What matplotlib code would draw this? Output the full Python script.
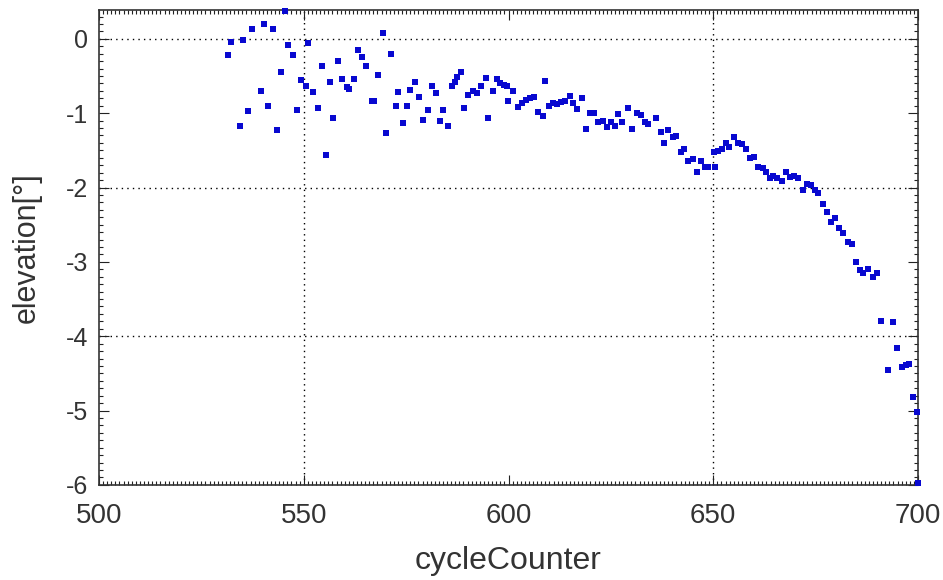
import matplotlib
matplotlib.use("Agg")
import matplotlib.pyplot as plt
from matplotlib.ticker import MultipleLocator

plt.rcParams['font.family'] = ['Liberation Sans', 'DejaVu Sans']
plt.rcParams['axes.unicode_minus'] = False

# values
cycle = [531.5, 532.2, 535.2, 537.4, 540.3, 542.5, 545.4, 534.4, 536.4, 539.6,
         541.3, 543.5, 544.4, 546.2, 547.4, 548.4, 549.3, 550.5, 551.0, 552.3,
         553.5, 554.5, 555.4, 556.4, 557.1, 558.4, 559.3, 560.6, 561.0, 562.3,
         563.2, 564.2, 565.2, 566.7, 567.1, 568.1, 569.4, 570.1, 571.3, 572.5,
         573.0, 574.2, 575.2, 575.9, 577.2, 578.1, 579.1, 580.3, 581.3, 582.3,
         583.3, 584.0, 585.2, 586.2, 586.9, 587.4, 588.4, 589.1, 590.1, 591.3,
         592.3, 593.3, 594.5, 595.0, 596.2, 597.2, 597.9, 598.9, 599.6, 599.9,
         601.1, 602.3, 603.3, 604.3, 605.3, 606.2, 607.2, 608.4, 608.9, 609.9,
         610.9, 611.8, 612.8, 613.8, 615.0, 615.7, 616.7, 617.9, 618.9, 619.9,
         620.9, 621.9, 623.1, 624.1, 625.0, 626.0, 626.7, 627.7, 629.2, 630.2,
         631.4, 632.4, 633.3, 634.1, 636.0, 637.2, 638.0, 639.0, 640.2, 640.9,
         642.1, 642.9, 643.8, 645.1, 646.0, 647.0, 648.0, 648.7, 650.4, 650.2,
         651.2, 652.1, 653.1, 653.8, 655.1, 656.0, 657.0, 658.0, 659.0, 660.0,
         661.0, 662.1, 662.9, 663.9, 664.7, 665.6, 666.8, 667.8, 668.7, 669.7,
         670.7, 671.9, 672.9, 673.9, 674.8, 675.6, 676.8, 677.8, 678.8, 679.7,
         680.7, 681.7, 682.9, 683.9, 684.9, 685.8, 686.6, 687.8, 689.0, 690.0,
         691.0, 693.9, 692.7, 694.9, 696.1, 697.1, 697.8, 698.8, 699.8, 700.0]
elevation = [-0.22, -0.04, -0.01, 0.13, 0.20, 0.13, 0.37, -1.17, -0.97, -0.70,
             -0.91, -1.22, -0.45, -0.08, -0.22, -0.96, -0.56, -0.63, -0.06, -0.71,
             -0.93, -0.37, -1.56, -0.58, -1.07, -0.30, -0.54, -0.65, -0.68, -0.54,
             -0.15, -0.24, -0.36, -0.83, -0.83, -0.48, 0.08, -1.26, -0.20, -0.90,
             -0.71, -1.13, -0.91, -0.69, -0.58, -0.78, -1.09, -0.96, -0.63, -0.73,
             -1.10, -0.96, -1.17, -0.64, -0.58, -0.51, -0.45, -0.93, -0.75, -0.70,
             -0.73, -0.63, -0.53, -1.06, -0.70, -0.54, -0.59, -0.62, -0.63, -0.83,
             -0.70, -0.92, -0.86, -0.82, -0.79, -0.78, -0.98, -1.04, -0.57, -0.90,
             -0.86, -0.87, -0.85, -0.83, -0.77, -0.86, -0.94, -0.79, -1.21, -1.00,
             -1.00, -1.12, -1.10, -1.18, -1.12, -1.17, -1.01, -1.12, -0.93, -1.21,
             -1.00, -1.02, -1.12, -1.14, -1.06, -1.25, -1.40, -1.22, -1.32, -1.31,
             -1.52, -1.48, -1.64, -1.62, -1.79, -1.64, -1.72, -1.72, -1.72, -1.52,
             -1.51, -1.48, -1.40, -1.45, -1.32, -1.40, -1.41, -1.48, -1.60, -1.59,
             -1.72, -1.74, -1.79, -1.87, -1.84, -1.87, -1.91, -1.79, -1.86, -1.84,
             -1.87, -2.03, -1.95, -1.96, -2.03, -2.07, -2.22, -2.33, -2.46, -2.41,
             -2.55, -2.61, -2.73, -2.76, -3.00, -3.11, -3.15, -3.10, -3.20, -3.15,
             -3.80, -3.81, -4.45, -4.16, -4.41, -4.39, -4.37, -4.82, -5.02, -5.98]

x_grid = [550, 650]
y_grid = [0, -2, -4]

fig = plt.figure(figsize=(9.43, 5.80), dpi=100)
ax = fig.add_axes([0.105, 0.164, 0.8685, 0.819])

ax.plot(cycle, elevation, 's', color='#0808d0', markersize=4.0,
        markeredgewidth=0, clip_on=False, zorder=3)

for gx in x_grid:
    ax.axvline(gx, color='black', linestyle=(0, (1, 3)), linewidth=1.0, zorder=1)
for gy in y_grid:
    ax.axhline(gy, color='black', linestyle=(0, (1, 3)), linewidth=1.0, zorder=1)

ax.set_xlim(500, 700)
ax.set_ylim(-6, 0.39)
ax.xaxis.set_major_locator(MultipleLocator(50))
ax.xaxis.set_minor_locator(MultipleLocator(1))
ax.yaxis.set_major_locator(MultipleLocator(1))
ax.yaxis.set_minor_locator(MultipleLocator(0.1))

ax.tick_params(which='both', direction='in', top=True, right=True,
               colors='#222222', labelcolor='#333333', width=0.8)
ax.tick_params(which='major', length=7)
ax.tick_params(which='minor', length=3)
ax.tick_params(axis='x', which='major', labelsize=20, pad=13)
ax.tick_params(axis='y', which='major', labelsize=18, pad=8)
for s in ax.spines.values():
    s.set_color('#333333')
    s.set_linewidth(1.2)

ax.set_xlabel('cycleCounter', fontsize=23, color='#333333', labelpad=12)
ax.set_ylabel('elevation[°]', fontsize=22, color='#333333', labelpad=17)

fig.savefig('out.png', dpi=100)
